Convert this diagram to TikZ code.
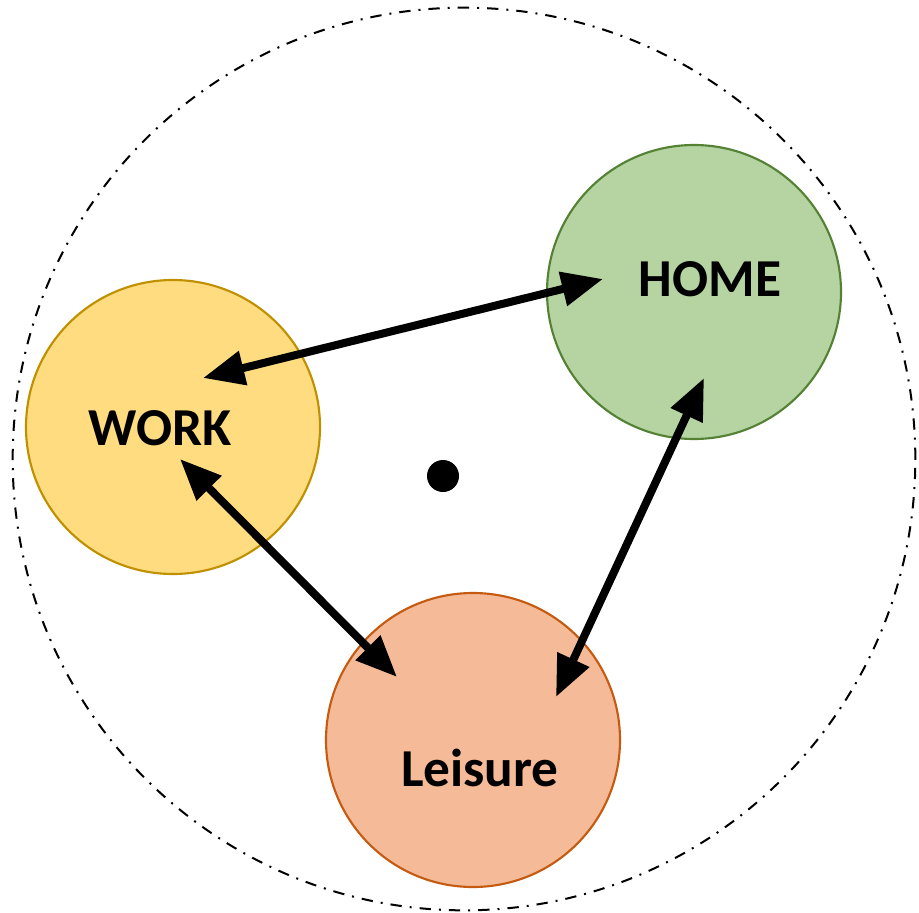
\documentclass[tikz,border=0pt]{standalone}
\usepackage{fontspec}
\setmainfont{Carlito}
\usetikzlibrary{arrows.meta}
\definecolor{workfill}{HTML}{FFDC7F}
\definecolor{workline}{HTML}{BF9000}
\definecolor{homefill}{HTML}{B6D4A2}
\definecolor{homeline}{HTML}{548235}
\definecolor{leisfill}{HTML}{F5BB98}
\definecolor{leisline}{HTML}{C55A11}
\tikzset{
  place/.style={circle, line width=1.6pt, minimum size=220.5pt, inner sep=0pt},
  lbl/.style={font=\fontsize{40}{42}\selectfont\bfseries, inner sep=0pt},
  link/.style={line width=6pt, {Triangle[length=31pt,width=25pt]}-{Triangle[length=31pt,width=25pt]}},
  boundary/.style={line width=1.5pt, dash pattern=on 8.5pt off 6pt on 1.5pt off 6pt}
}
\begin{document}
\begin{tikzpicture}[x=0.75pt,y=-0.75pt]
\useasboundingbox (0,0) rectangle (919,912);
\node[boundary, draw, circle, minimum size=677pt, inner sep=0pt] (outer) at (464,459) {};
\node[place, draw=workline, fill=workfill] (work) at (173,427) {};
\node[place, draw=homeline, fill=homefill] (home) at (694,292) {};
\node[place, draw=leisline, fill=leisfill] (leisure) at (473,740) {};
\node[lbl] (worklbl) at (160,428) {WORK};
\node[lbl] (homelbl) at (710,279) {HOME};
\node[lbl] (leislbl) at (480,768) {Leisure};
\fill (443,476) circle[radius=12pt];
\node[inner sep=0pt] (dot) at (443,476) {};
\coordinate (wh) at (203,378);
\coordinate (hw) at (603,279);
\coordinate (wl) at (180,459);
\coordinate (lw) at (397,677);
\coordinate (hl) at (704,378);
\coordinate (lh) at (556,697);
\draw[link] (wh) -- (hw);
\draw[link] (wl) -- (lw);
\draw[link] (hl) -- (lh);
\end{tikzpicture}
\end{document}
